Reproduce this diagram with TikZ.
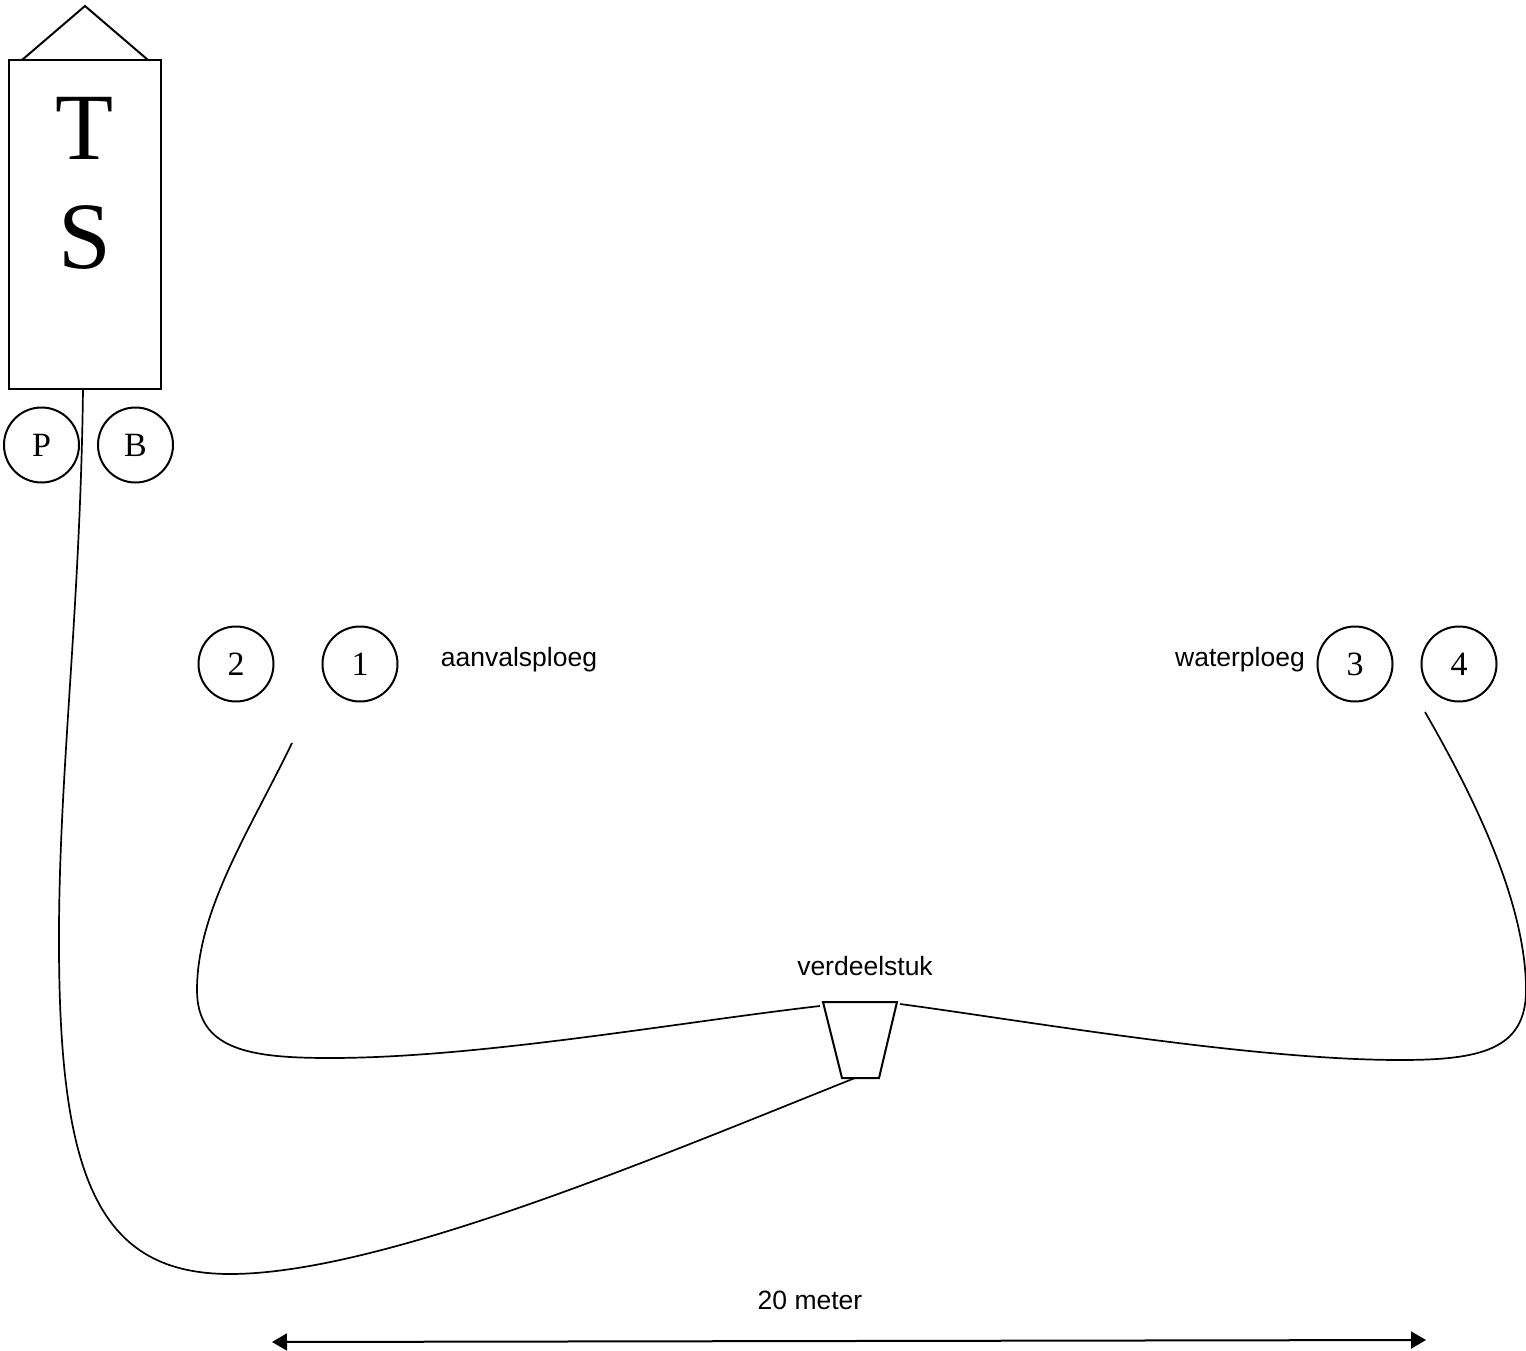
\documentclass[tikz,border=0pt]{standalone}
\usepackage{fontspec}
\setmainfont{Liberation Serif}
\newfontfamily\arialf{Liberation Sans}
\usetikzlibrary{arrows.meta}
\tikzset{
  boxshape/.style={draw, line width=2pt},
  crew/.style={draw, circle, line width=2pt, minimum size=75pt, inner sep=0pt, font=\fontsize{34}{38}\selectfont},
  hose/.style={draw, line width=1.7pt},
  lbl/.style={font=\arialf\fontsize{26.5}{30}\selectfont, inner sep=0pt},
  big/.style={font=\fontsize{95}{100}\selectfont, inner sep=0pt}
}
\begin{document}
\begin{tikzpicture}[x=1pt,y=-1pt]
\useasboundingbox (0,0) rectangle (1526,1351);
% truck
\node[boxshape, rectangle, minimum width=152pt, minimum height=329pt, inner sep=0pt] (ts) at (85,224.5) {};
\coordinate (roofL) at (22,60);
\coordinate (roofT) at (85,6);
\coordinate (roofR) at (148,60);
\draw[line width=2pt] (roofL) -- (roofT) -- (roofR);
\node[big] (T) at (85,128) {T};
\node[big] (S) at (85,238) {S};
% P and B
\node[crew] (P) at (41.5,445) {P};
\node[crew] (B) at (135.5,445) {B};
% crews
\node[crew] (c2) at (236,664) {2};
\node[crew] (c1) at (360,664) {1};
\node[crew] (c3) at (1355,664) {3};
\node[crew] (c4) at (1459,664) {4};
\node[lbl] (aanval) at (519,660) {aanvalsploeg};
\node[lbl] (water) at (1240,660) {waterploeg};
% verdeelstuk
\node[lbl] (verdlbl) at (865,966) {verdeelstuk};
\coordinate (vTL) at (823,1002);
\coordinate (vTR) at (897,1002);
\coordinate (vBR) at (879,1078);
\coordinate (vBL) at (842,1078);
\coordinate (vB) at (855,1078);
\draw[line width=2pt] (vTL) -- (vTR) -- (vBR) -- (vBL) -- cycle;
% hoses
\coordinate (tsout) at (83,390);
\draw[hose] (tsout) .. controls (80,620) and (58,780) .. (59,950)
  .. controls (60,1180) and (100,1274) .. (230,1274)
  .. controls (380,1274) and (650,1160) .. (vB);
\coordinate (hL) at (292,743);
\coordinate (vL) at (820,1006);
\draw[hose] (hL) .. controls (250,830) and (197,910) .. (197,990)
  .. controls (197,1050) and (250,1058) .. (330,1058)
  .. controls (480,1058) and (680,1022) .. (vL);
\coordinate (hR) at (1425,712);
\coordinate (vR) at (900,1004);
\draw[hose] (hR) .. controls (1470,790) and (1526,900) .. (1526,990)
  .. controls (1526,1050) and (1480,1060) .. (1400,1060)
  .. controls (1250,1060) and (1020,1020) .. (vR);
% distance
\node[lbl] (dist) at (810,1300) {20 meter};
\coordinate (aL) at (272,1342);
\coordinate (aR) at (1426,1340);
\draw[line width=2pt, {Triangle[length=15pt,width=17pt]}-{Triangle[length=15pt,width=17pt]}] (aL) -- (aR);
\end{tikzpicture}
\end{document}
